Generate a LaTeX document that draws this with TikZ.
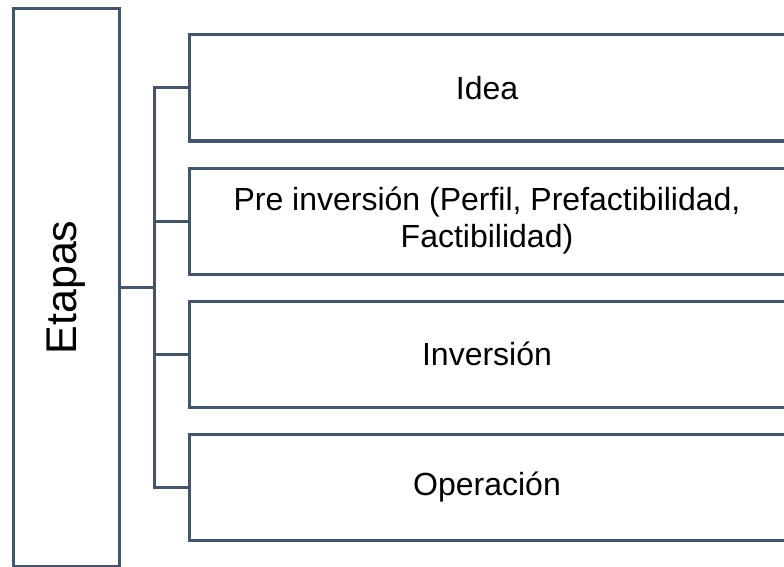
\documentclass[tikz,border=0pt]{standalone}
\usepackage{fontspec}
\setmainfont{Liberation Sans}
\usetikzlibrary{positioning}
\definecolor{slate}{HTML}{44546A}

\begin{document}
\begin{tikzpicture}
[x=1pt,y=-1pt,
 every node/.style={draw=slate,line width=3pt,inner sep=0pt,outer sep=0pt,font=\fontsize{32}{37}\selectfont},
 stage/.style={rectangle,minimum width=596pt,minimum height=106pt,align=center},
 phase/.style={rectangle,minimum width=557pt,minimum height=106pt,rotate=90,font=\fontsize{43}{48}\selectfont},
 link/.style={draw=slate,line width=3pt}]
\clip (0,0) rectangle (784,567);
\node[phase] (etapas) at (66,287.5) {Etapas};
\node[stage] (s1) at (487,88)                 {Idea};
\node[stage] (s2) [on grid,below=133pt of s1] {Pre inversión (Perfil, Prefactibilidad,\\Factibilidad)};
\node[stage] (s3) [on grid,below=133pt of s2] {Inversión};
\node[stage] (s4) [on grid,below=133pt of s3] {Operación};

\path[link] (etapas.south) -- ++(35,0) coordinate (hub);
\foreach \s in {s1,s2,s3,s4}
  \path[link] (hub) |- (\s.west);
\end{tikzpicture}
\end{document}
